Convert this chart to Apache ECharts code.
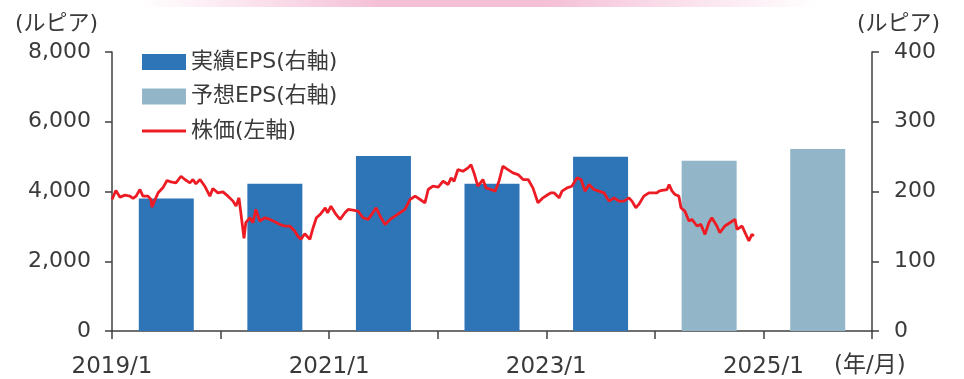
<!DOCTYPE html>
<html><head><meta charset="utf-8">
<script src="https://cdn.jsdelivr.net/npm/echarts@6/dist/echarts.min.js"></script>
<style>html,body{margin:0;padding:0;background:#fff}#c{width:964px;height:379px}</style>
</head><body><div id="c"></div>
<script>
// Fiscal years (bar categories) and EPS values (rupiah, right axis)
const years = [2019, 2020, 2021, 2022, 2023, 2024, 2025];
const actualEPS   = [190, 211, 251, 211, 250, null, null];
const forecastEPS = [null, null, null, null, null, 244, 261];

// Stock price (rupiah, left axis)
const priceDates = [
'2019-01-01','2019-01-14','2019-01-28','2019-02-14','2019-03-02','2019-03-13','2019-03-23','2019-04-05','2019-04-15','2019-05-02','2019-05-12','2019-05-15','2019-05-26','2019-06-05','2019-06-21','2019-07-05','2019-07-18','2019-08-04','2019-08-21','2019-09-03','2019-09-20','2019-09-30','2019-10-10','2019-10-24','2019-11-09','2019-11-26','2019-12-06','2019-12-23',
'2020-01-09','2020-01-26','2020-02-12','2020-02-22','2020-03-03','2020-03-10','2020-03-20','2020-03-26','2020-04-09','2020-04-19','2020-04-29','2020-05-12','2020-05-29','2020-06-15','2020-07-02','2020-07-18','2020-08-04','2020-08-21','2020-09-07','2020-09-17','2020-09-28','2020-10-11','2020-10-28','2020-11-08','2020-11-19','2020-12-02','2020-12-19','2020-12-27',
'2021-01-07','2021-01-24','2021-02-07','2021-02-23','2021-03-06','2021-03-22','2021-04-08','2021-04-25','2021-05-12','2021-05-28','2021-06-08','2021-06-24','2021-07-08','2021-07-25','2021-08-10','2021-08-27','2021-09-13','2021-09-30','2021-10-17','2021-11-03','2021-11-19','2021-11-30','2021-12-16',
'2022-01-03','2022-01-19','2022-02-05','2022-02-15','2022-02-25','2022-03-10','2022-03-27','2022-04-13','2022-04-23','2022-05-03','2022-05-16','2022-06-02','2022-06-12','2022-06-29','2022-07-13','2022-07-26','2022-08-08','2022-08-25','2022-09-11','2022-09-28','2022-10-15','2022-11-01','2022-11-17','2022-12-04','2022-12-21',
'2023-01-07','2023-01-17','2023-01-27','2023-02-13','2023-02-23','2023-03-12','2023-03-28','2023-04-14','2023-04-28','2023-05-11','2023-05-25','2023-06-10','2023-06-27','2023-07-14','2023-07-31','2023-08-17','2023-09-02','2023-09-19','2023-10-06','2023-10-16','2023-10-29','2023-11-08','2023-11-25','2023-12-12','2023-12-29',
'2024-01-08','2024-01-15','2024-01-25','2024-02-11','2024-02-18','2024-02-28','2024-03-09','2024-03-22','2024-03-29','2024-04-11','2024-04-25','2024-05-05','2024-05-22','2024-06-04','2024-06-18','2024-07-01','2024-07-11','2024-07-28','2024-08-07','2024-08-24','2024-09-10','2024-09-27','2024-10-04','2024-10-21','2024-10-31','2024-11-13','2024-11-23','2024-11-30'
];
const prices = [
3771,4029,3838,3895,3867,3800,3867,4057,3867,3867,3771,3552,3771,3962,4105,4314,4276,4248,4438,4343,4248,4343,4219,4343,4152,3867,4086,3962,
3990,3867,3724,3581,3819,3343,2657,3105,3248,3105,3486,3152,3248,3200,3133,3057,3010,3010,2867,2724,2629,2790,2629,2962,3248,3343,3533,3390,
3581,3343,3200,3390,3486,3467,3438,3248,3200,3390,3533,3248,3057,3200,3295,3390,3486,3771,3867,3771,3676,4057,4152,
4124,4295,4200,4390,4295,4629,4581,4676,4771,4533,4152,4343,4105,4057,4010,4295,4724,4629,4533,4486,4343,4343,4105,3676,3819,
3914,3962,3962,3819,4010,4105,4152,4390,4343,4010,4200,4057,4010,3962,3724,3819,3724,3724,3819,3724,3533,3629,3867,3962,3962,
3962,4010,4029,4057,4200,4010,3914,3867,3533,3438,3152,3200,3010,3057,2771,3105,3248,3010,2819,3010,3105,3200,2914,3010,2819,2581,2771,2724
];

// Tick labels
const leftTicks = [0, 2000, 4000, 6000, 8000];
const rightTicks = [0, 100, 200, 300, 400];
const xTickYears = [2019, 2020, 2021, 2022, 2023, 2024, 2025, 2026];

function toYear(s) {
  const p = s.split('-').map(Number);
  const t = Date.UTC(p[0], p[1] - 1, p[2]);
  const a = Date.UTC(p[0], 0, 1), b = Date.UTC(p[0] + 1, 0, 1);
  return p[0] + (t - a) / (b - a);
}

const FONT = '"DejaVu Sans", "Noto Sans CJK JP", sans-serif';
const TXT = '#3a3a3a';
const AX = '#404040';

const chart = echarts.init(document.getElementById('c'), null, {renderer: 'canvas'});
chart.setOption({
  animation: false,
  textStyle: {fontFamily: FONT, color: TXT},
  grid: {left: 112, right: 92, top: 52, bottom: 47, containLabel: false},
  legend: {
    left: 142, top: 51, orient: 'vertical', padding: 0,
    itemWidth: 44, itemHeight: 16, itemGap: 12.5, itemTextGap: 6,
    textStyle: {fontFamily: FONT, fontSize: 22, color: TXT, lineHeight: 20},
    data: [
      {name: '実績EPS(右軸)', icon: 'rect'},
      {name: '予想EPS(右軸)', icon: 'rect'},
      {name: '株価(左軸)', icon: 'path://M0,0 M0,6.5 L44,6.5 L44,9.5 L0,9.5 Z M44,16'}
    ]
  },
  xAxis: {
    type: 'value', min: xTickYears[0], max: xTickYears[xTickYears.length - 1], interval: 1,
    axisLine: {show: true, lineStyle: {color: AX, width: 1.5}},
    axisTick: {show: true, length: 8, lineStyle: {color: AX, width: 1.5}},
    splitLine: {show: false},
    axisLabel: {
      margin: 25, fontSize: 23, color: TXT, fontFamily: FONT,
      formatter: v => (v % 2 === 1 && v < 2026) ? v + '/1' : ''
    }
  },
  yAxis: [
    {
      type: 'value', min: leftTicks[0], max: leftTicks[leftTicks.length - 1], interval: 2000,
      axisLine: {show: true, lineStyle: {color: AX, width: 1.5}},
      axisTick: {show: true, length: 7, lineStyle: {color: AX, width: 1.5}},
      splitLine: {show: false},
      axisLabel: {margin: 21, fontSize: 22, color: TXT, fontFamily: FONT,
        formatter: v => v.toLocaleString('en-US')}
    },
    {
      type: 'value', min: rightTicks[0], max: rightTicks[rightTicks.length - 1], interval: 100,
      axisLine: {show: true, lineStyle: {color: AX, width: 1.5}},
      axisTick: {show: true, length: 7, lineStyle: {color: AX, width: 1.5}},
      splitLine: {show: false},
      axisLabel: {margin: 22, fontSize: 22, color: TXT, fontFamily: FONT}
    }
  ],
  series: [
    {
      name: '実績EPS(右軸)', type: 'bar', yAxisIndex: 1, barWidth: 55, barGap: '-100%',
      itemStyle: {color: '#2e75b8'}, z: 2,
      data: years.map((y, i) => [y + 0.5, actualEPS[i]]).filter(d => d[1] != null)
    },
    {
      name: '予想EPS(右軸)', type: 'bar', yAxisIndex: 1, barWidth: 55, barGap: '-100%',
      itemStyle: {color: '#92b5c8'}, z: 2,
      data: years.map((y, i) => [y + 0.5, forecastEPS[i]]).filter(d => d[1] != null)
    },
    {
      name: '株価(左軸)', type: 'line', yAxisIndex: 0, symbol: 'none', z: 5,
      lineStyle: {color: '#ed1c24', width: 2.8}, itemStyle: {color: '#ed1c24'},
      data: priceDates.map((d, i) => [toYear(d), prices[i]])
    }
  ],
  graphic: [
    {type: 'rect', left: 140, top: 0, shape: {width: 680, height: 7}, silent: true,
      style: {fill: new echarts.graphic.LinearGradient(0, 0, 1, 0, [
        {offset: 0, color: 'rgba(245,190,215,0)'},
        {offset: 0.35, color: 'rgba(243,185,210,0.9)'},
        {offset: 0.6, color: 'rgba(243,185,210,0.9)'},
        {offset: 1, color: 'rgba(245,190,215,0)'}
      ])}},
    {type: 'text', left: 15, top: 13, style: {text: '(ルピア)', font: '22px ' + FONT, fill: TXT}},
    {type: 'text', left: 857, top: 13, style: {text: '(ルピア)', font: '22px ' + FONT, fill: TXT}},
    {type: 'text', left: 834, top: 355, style: {text: '(年/月)', font: '23px ' + FONT, fill: TXT}}
  ]
});
</script></body></html>
